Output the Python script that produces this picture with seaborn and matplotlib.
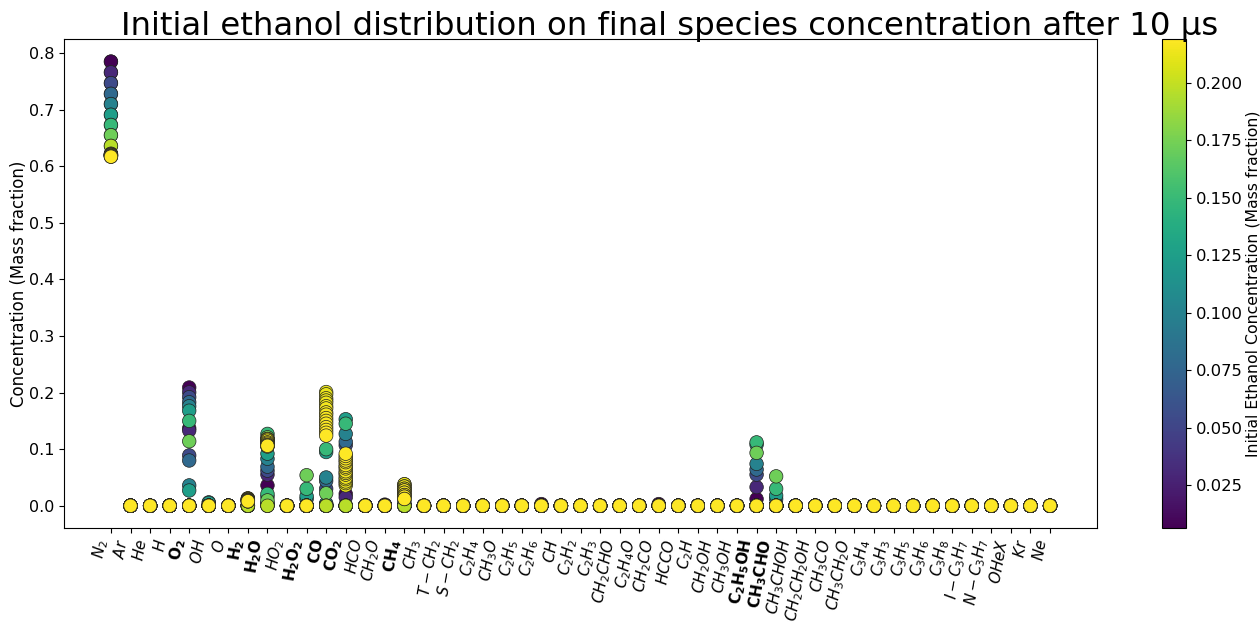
import numpy as np
import pandas as pd
import matplotlib
matplotlib.use("Agg")
import matplotlib.pyplot as plt
import seaborn as sns
from matplotlib.colors import Normalize
from matplotlib.cm import ScalarMappable

# Species in the mechanism, in plotting order
species = ["N2", "Ar", "He", "H", "O2", "OH", "O", "H2", "H2O", "HO2", "H2O2",
           "CO", "CO2", "HCO", "CH2O", "CH4", "CH3", "T-CH2", "S-CH2", "C2H4",
           "CH3O", "C2H5", "C2H6", "CH", "C2H2", "C2H3", "CH2CHO", "C2H4O",
           "CH2CO", "HCCO", "C2H", "CH2OH", "CH3OH", "C2H5OH", "CH3CHO",
           "CH3CHOH", "CH2CH2OH", "CH3CO", "CH3CH2O", "C3H4", "C3H3", "C3H5",
           "C3H6", "C3H8", "I-C3H7", "N-C3H7", "OHeX", "Kr", "Ne"]

tick_labels = [r"$N_2$", r"$Ar$", r"$He$", r"$H$", r"$\mathbf{O_2}$", r"$OH$", r"$O$",
               r"$\mathbf{H_2}$", r"$\mathbf{H_2O}$", r"$HO_2$", r"$\mathbf{H_2O_2}$",
               r"$\mathbf{CO}$", r"$\mathbf{CO_2}$", r"$HCO$", r"$CH_2O$", r"$\mathbf{CH_4}$",
               r"$CH_3$", r"$T-CH_2$", r"$S-CH_2$", r"$C_2H_4$", r"$CH_3O$", r"$C_2H_5$",
               r"$C_2H_6$", r"$CH$", r"$C_2H_2$", r"$C_2H_3$", r"$CH_2CHO$", r"$C_2H_4O$",
               r"$CH_2CO$", r"$HCCO$", r"$C_2H$", r"$CH_2OH$", r"$CH_3OH$",
               r"$\mathbf{C_2H_5OH}$", r"$\mathbf{CH_3CHO}$", r"$CH_3CHOH$",
               r"$CH_2CH_2OH$", r"$CH_3CO$", r"$CH_3CH_2O$", r"$C_3H_4$", r"$C_3H_3$",
               r"$C_3H_5$", r"$C_3H_6$", r"$C_3H_8$", r"$I-C_3H_7$", r"$N-C_3H_7$",
               r"$OHeX$", r"$Kr$", r"$Ne$"]

# Initial ethanol mass fraction of each run (ascending, so richer mixtures draw on top)
ethanol = [0.0065, 0.0065, 0.030, 0.030, 0.054, 0.054, 0.078, 0.078, 0.101, 0.101,
           0.125, 0.125, 0.149, 0.149, 0.172, 0.172, 0.196, 0.196,
           0.212, 0.212, 0.213, 0.213, 0.214, 0.214, 0.215, 0.215,
           0.216, 0.216, 0.217, 0.217, 0.218, 0.218, 0.219, 0.219]

# Final mass fractions after 10 us, one value per run
n2 = [0.785, 0.785, 0.766, 0.766, 0.747, 0.747, 0.728, 0.728, 0.710, 0.710,
      0.691, 0.691, 0.673, 0.673, 0.655, 0.655, 0.636, 0.636,
      0.622, 0.622, 0.621, 0.621, 0.620, 0.620, 0.620, 0.620,
      0.619, 0.619, 0.619, 0.619, 0.618, 0.618, 0.617, 0.617]
o2 = [0.209, 0.137, 0.2005, 0.133, 0.192, 0.089, 0.183, 0.080, 0.176, 0.036,
      0.168, 0.027, 0.150, 0.000, 0.114, 0.000, 0.000, 0.000,
      0, 0, 0, 0, 0, 0, 0, 0, 0, 0, 0, 0, 0, 0, 0, 0]
h2o = [0.000, 0.036, 0.000, 0.055, 0.002, 0.062, 0.003, 0.069, 0.005, 0.083,
       0.016, 0.092, 0.021, 0.127, 0.0095, 0.121, 0.000, 0.118,
       0.118, 0.116, 0.117, 0.113, 0.115, 0.111, 0.112, 0.109,
       0.110, 0.107, 0.108, 0.106, 0.105, 0.107, 0.105, 0.106]
co = [0.000, 0.000, 0.000, 0.000, 0.001, 0.030, 0.002, 0.044, 0.003, 0.050,
      0.004, 0.095, 0.000, 0.100, 0.022, 0.000, 0.000, 0.000,
      0.201, 0.197, 0.190, 0.186, 0.182, 0.176, 0.172, 0.165,
      0.161, 0.155, 0.150, 0.145, 0.139, 0.134, 0.129, 0.124]
co2 = [0.000, 0.021, 0.000, 0.015, 0.000, 0.107, 0.000, 0.113, 0.000, 0.127,
       0.000, 0.153, 0.000, 0.145, 0.000, 0.000, 0.000, 0.000,
       0.036, 0.040, 0.043, 0.047, 0.050, 0.055, 0.058, 0.061,
       0.066, 0.069, 0.072, 0.077, 0.080, 0.084, 0.088, 0.092]
h2 = [0.000, 0.004, 0.000, 0.003, 0.000, 0.000, 0.000, 0.000, 0.000, 0.000,
      0.000, 0.000, 0.000, 0.000, 0.000, 0.000, 0.000, 0.000,
      0.013, 0.013, 0.012, 0.012, 0.011, 0.011, 0.010, 0.010,
      0.010, 0.009, 0.009, 0.009, 0.008, 0.008, 0.008, 0.008]
oh = [0.000, 0.000, 0.000, 0.000, 0.000, 0.000, 0.000, 0.000, 0.000, 0.006,
      0.000, 0.005, 0.000, 0.000, 0.000, 0.000, 0.000, 0.000,
      0, 0, 0, 0, 0, 0, 0, 0, 0, 0, 0, 0, 0, 0, 0, 0]
h2o2 = [0.000, 0.000, 0.000, 0.000, 0.000, 0.000, 0.000, 0.000, 0.012, 0.000,
        0.017, 0.000, 0.030, 0.000, 0.054, 0.000, 0.000, 0.000,
        0, 0, 0, 0, 0, 0, 0, 0, 0, 0, 0, 0, 0, 0, 0, 0]
ch4 = [0.000, 0.000, 0.000, 0.000, 0.000, 0.000, 0.000, 0.000, 0.000, 0.000,
       0.003, 0.000, 0.000, 0.000, 0.008, 0.000, 0.000, 0.000,
       0.038, 0.038, 0.034, 0.034, 0.030, 0.030, 0.027, 0.027,
       0.023, 0.023, 0.019, 0.019, 0.016, 0.016, 0.012, 0.012]
c2h5oh = [0.012, 0.000, 0.033, 0.000, 0.055, 0.000, 0.064, 0.000, 0.074, 0.000,
          0.108, 0.000, 0.112, 0.000, 0.0935, 0.000, 0.000, 0.000,
          0, 0, 0, 0, 0, 0, 0, 0, 0, 0, 0, 0, 0, 0, 0, 0]
ch3cho = [0.000, 0.000, 0.000, 0.000, 0.000, 0.000, 0.000, 0.000, 0.012, 0.000,
          0.018, 0.000, 0.030, 0.000, 0.052, 0.000, 0.000, 0.000,
          0, 0, 0, 0, 0, 0, 0, 0, 0, 0, 0, 0, 0, 0, 0, 0]
hco = [0.001] + [0.0] * 33
ch2o = [0.002] + [0.0] * 33
c2h6 = [0.003] + [0.0] * 33
ch2co = [0.003] + [0.0] * 33

# Species not listed here stay at zero for every run
results = {"N2": n2, "O2": o2, "H2O": h2o, "CO": co, "CO2": co2, "H2": h2,
           "OH": oh, "H2O2": h2o2, "CH4": ch4, "C2H5OH": c2h5oh,
           "CH3CHO": ch3cho, "HCO": hco, "CH2O": ch2o, "C2H6": c2h6,
           "CH2CO": ch2co}

rows = []
for j, eth in enumerate(ethanol):
    for i, sp in enumerate(species):
        conc = results[sp][j] if sp in results else 0.0
        rows.append({"pos": i, "conc": conc, "ethanol": eth})
df = pd.DataFrame(rows)

fig = plt.figure(figsize=(12.6, 6.23), dpi=100)
ax = fig.add_axes([64 / 1260, 1 - 528 / 623, (1097 - 64) / 1260, (528 - 39) / 623])
cax = fig.add_axes([1162 / 1260, 1 - 528 / 623, 24 / 1260, (528 - 39) / 623])

norm = Normalize(vmin=min(ethanol), vmax=max(ethanol))
sns.scatterplot(data=df, x="pos", y="conc", hue="ethanol", palette="viridis",
                hue_norm=norm, s=95, edgecolor="#222222", linewidth=0.5,
                legend=False, ax=ax)

ax.set_xticks(range(len(species)))
ax.set_xticklabels(tick_labels, rotation=80, ha="right", fontsize=11)
ax.set_xlim(-2.4, 50.4)
ax.set_ylim(-0.0393, 0.825)
ax.set_yticks(np.arange(0, 0.81, 0.1))
ax.tick_params(axis="y", labelsize=11.5)
ax.set_xlabel("")
ax.set_ylabel("Concentration (Mass fraction)", fontsize=12)
ax.yaxis.set_label_coords(-0.035, 0.5)

sm = ScalarMappable(norm=norm, cmap="viridis")
cb = fig.colorbar(sm, cax=cax)
cb.ax.tick_params(labelsize=11.8)
cb.set_label("Initial Ethanol Concentration (Mass fraction)", fontsize=11.3,
             labelpad=2)

fig.text(670 / 1260, 1 - 35 / 623,
         "Initial ethanol distribution on final species concentration after 10 μs",
         ha="center", va="baseline", fontsize=23.3)

fig.savefig("out.png", dpi=100)
